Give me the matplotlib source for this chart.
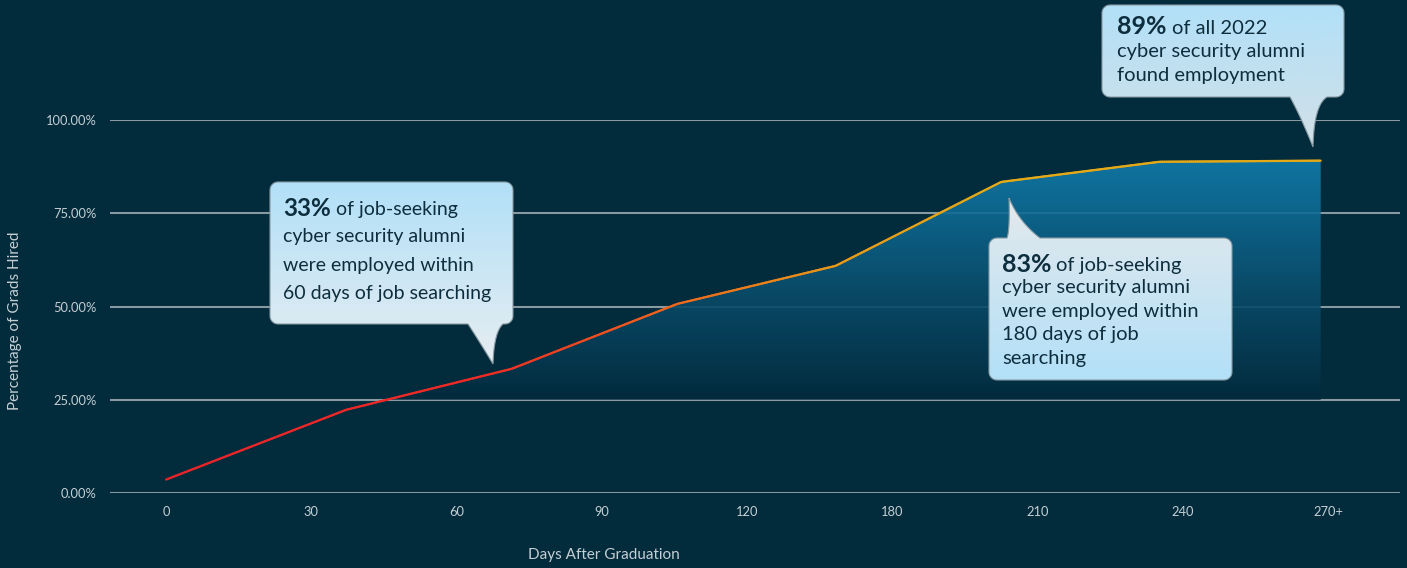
import numpy as np
import matplotlib
matplotlib.use("Agg")
import matplotlib.pyplot as plt
from matplotlib.collections import LineCollection
from matplotlib.path import Path
from matplotlib.colors import LinearSegmentedColormap, to_rgb

# data: x is position along the day axis in tick steps, y is % of grads hired
x_pos = [0, 1.24, 2.38, 3.52, 4.61, 5.75, 6.84, 7.95]
pct_hired = [3.6, 22.3, 33.3, 50.7, 60.9, 83.4, 88.8, 89.1]
x_ticklabels = ["0", "30", "60", "90", "120", "180", "210", "240", "270+"]
y_ticks = [0, 25, 50, 75, 100]

callout_texts = [
    ("33%", ["of job-seeking", "cyber security alumni", "were employed within", "60 days of job searching"]),
    ("83%", ["of job-seeking", "cyber security alumni", "were employed within", "180 days of job", "searching"]),
    ("89%", ["of all 2022", "cyber security alumni", "found employment"]),
]

BG = "#022b3c"
GRID = "#879aa2"
TXT = "#c5cfd4"
DARK = "#0e2e3e"
FONT = "Lato"

W, H = 1407, 568
fig = plt.figure(figsize=(W / 100, H / 100), dpi=100, facecolor=BG)
ax = fig.add_axes([110 / W, (H - 493) / H, 1290 / W, 373 / H])
ax.set_facecolor(BG)
ax.set_xlim(-0.386, 8.496)
ax.set_ylim(0, 100)
for s in ax.spines.values():
    s.set_visible(False)
ax.set_yticks(y_ticks)
ax.set_yticklabels([f"{v:.2f}%" for v in y_ticks])
ax.set_xticks(range(len(x_ticklabels)))
ax.set_xticklabels(x_ticklabels)
ax.tick_params(length=0, colors=TXT, labelsize=9.3)
ax.tick_params(axis="y", pad=9.5)
ax.tick_params(axis="x", pad=9)
for lab in ax.get_xticklabels() + ax.get_yticklabels():
    lab.set_fontfamily(FONT)
for v in y_ticks:
    ax.axhline(v, color=GRID, lw=1.5, zorder=1)

x = np.array(x_pos)
y = np.array(pct_hired)

# gradient area between the line and the 25% grid line
poly = ax.fill_between(x, y, 25, where=y >= 25, interpolate=True, color="none", lw=0)
fill_cmap = LinearSegmentedColormap.from_list("fill", ["#032a3c", "#0a4f6e", "#127eae"])
grad = np.linspace(0, 1, 256).reshape(-1, 1)
im = ax.imshow(grad ** 0.9, extent=(x.min(), x.max(), 25, 90), origin="lower",
               aspect="auto", cmap=fill_cmap, alpha=0.9, zorder=2)
im.set_clip_path(poly.get_paths()[0], transform=ax.transData)
ax.set_xlim(-0.386, 8.496)
ax.set_ylim(0, 100)

# line coloured red -> orange -> gold along x
xs = np.linspace(x.min(), x.max(), 600)
ys = np.interp(xs, x, y)
pts = np.column_stack([xs, ys]).reshape(-1, 1, 2)
segs = np.concatenate([pts[:-1], pts[1:]], axis=1)
stops = [(0.0, "#e8242b"), (2.2, "#ee2b25"), (3.4, "#f0621e"), (4.6, "#ea9818"), (5.6, "#e5a917"), (8.0, "#e5a917")]
sx = [s[0] for s in stops]
sc = np.array([to_rgb(s[1]) for s in stops])
mid = (xs[:-1] + xs[1:]) / 2
cols = np.column_stack([np.interp(mid, sx, sc[:, i]) for i in range(3)])
ax.add_collection(LineCollection(segs, colors=cols, lw=1.6, zorder=3, capstyle="round"))

fig.text(15 / W, 1 - 321 / H, "Percentage of Grads Hired", rotation=90, color=TXT,
         fontsize=11, family=FONT, ha="center", va="center")
fig.text(604 / W, 1 - 555 / H, "Days After Graduation", color=TXT,
         fontsize=11, family=FONT, ha="center", va="center")

# overlay in pixel coordinates for the speech bubbles
ov = fig.add_axes([0, 0, 1, 1], facecolor="none")
ov.set_xlim(0, W)
ov.set_ylim(H, 0)
ov.axis("off")


def bez(p0, p1, p2, n=20):
    t = np.linspace(0, 1, n)[:, None]
    p0, p1, p2 = map(np.array, (p0, p1, p2))
    return list((1 - t) ** 2 * p0 + 2 * (1 - t) * t * p1 + t ** 2 * p2)


def corner(cx, cy, r, a0, a1):
    a = np.radians(np.linspace(a0, a1, 10))
    return [(cx + r * np.cos(t), cy + r * np.sin(t)) for t in a]


def bubble(x0, y0, x1, y1, base_a, base_b, tip, side, r=8):
    # y grows downward; angles measured in that frame
    v = []
    v += corner(x0 + r, y0 + r, r, 180, 270)
    if side == "top":
        v += [(base_a, y0)]
        v += bez((base_a, y0), (tip[0] + 1, y0 - 8), tip)
        v += bez(tip, (tip[0] + 10, y0 - 16), (base_b, y0))
    v += corner(x1 - r, y0 + r, r, 270, 360)
    v += corner(x1 - r, y1 - r, r, 0, 90)
    if side == "bottom":
        v += [(base_b, y1)]
        v += bez((base_b, y1), (tip[0] + 1, y1 + 8), tip)
        v += bez(tip, (tip[0] - 12, y1 + 20), (base_a, y1))
    v += corner(x0 + r, y1 - r, r, 90, 180)
    v.append(v[0])
    return Path(np.array(v))


bubbles = [
    dict(box=(270, 182, 513, 324), base=(468, 503), tip=(493, 364), side="bottom",
         c=("#b2e0f8", "#e6edf1"), tx=283, ty=208, dy=28.5, fs=14, fsb=17.5),
    dict(box=(989, 238, 1232, 380), base=(1007, 1040), tip=(1009, 198), side="top",
         c=("#e4e9ec", "#b2e0f8"), tx=1002, ty=264, dy=23.6, fs=14.5, fsb=18),
    dict(box=(1102, 5, 1344, 97), base=(1290, 1327), tip=(1313, 147), side="bottom",
         c=("#b2e0f8", "#d2e0e7"), tx=1117, ty=27, dy=24.5, fs=14.5, fsb=18),
]

renderer = fig.canvas.get_renderer()
for b, (bold, lines) in zip(bubbles, callout_texts):
    x0, y0, x1, y1 = b["box"]
    tip = b["tip"]
    path = bubble(x0, y0, x1, y1, b["base"][0], b["base"][1], tip, b["side"])
    top = min(y0, tip[1])
    bot = max(y1, tip[1])
    cm = LinearSegmentedColormap.from_list("b", list(b["c"]))
    g = ov.imshow(np.linspace(0, 1, 256).reshape(-1, 1), extent=(x0, x1, bot, top),
                  origin="upper", aspect="auto", cmap=cm, zorder=5)
    g.set_clip_path(path, transform=ov.transData)
    ov.add_patch(matplotlib.patches.PathPatch(path, fc="none", ec="#8799a2", lw=0.8, zorder=6))
    t = ov.text(b["tx"], b["ty"], bold, fontsize=b["fsb"], fontweight="bold", family=FONT,
                color=DARK, va="center", ha="left", zorder=7)
    wbold = t.get_window_extent(renderer).width
    for i, line in enumerate(lines):
        if i == 0:
            ov.text(b["tx"] + wbold + 5, b["ty"] + 1, line, fontsize=b["fs"], family=FONT,
                    color=DARK, va="center", ha="left", zorder=7)
        else:
            ov.text(b["tx"], b["ty"] + i * b["dy"], line, fontsize=b["fs"], family=FONT,
                    color=DARK, va="center", ha="left", zorder=7)

ov.set_xlim(0, W)
ov.set_ylim(H, 0)
fig.savefig("out.png", dpi=100, facecolor=BG)
